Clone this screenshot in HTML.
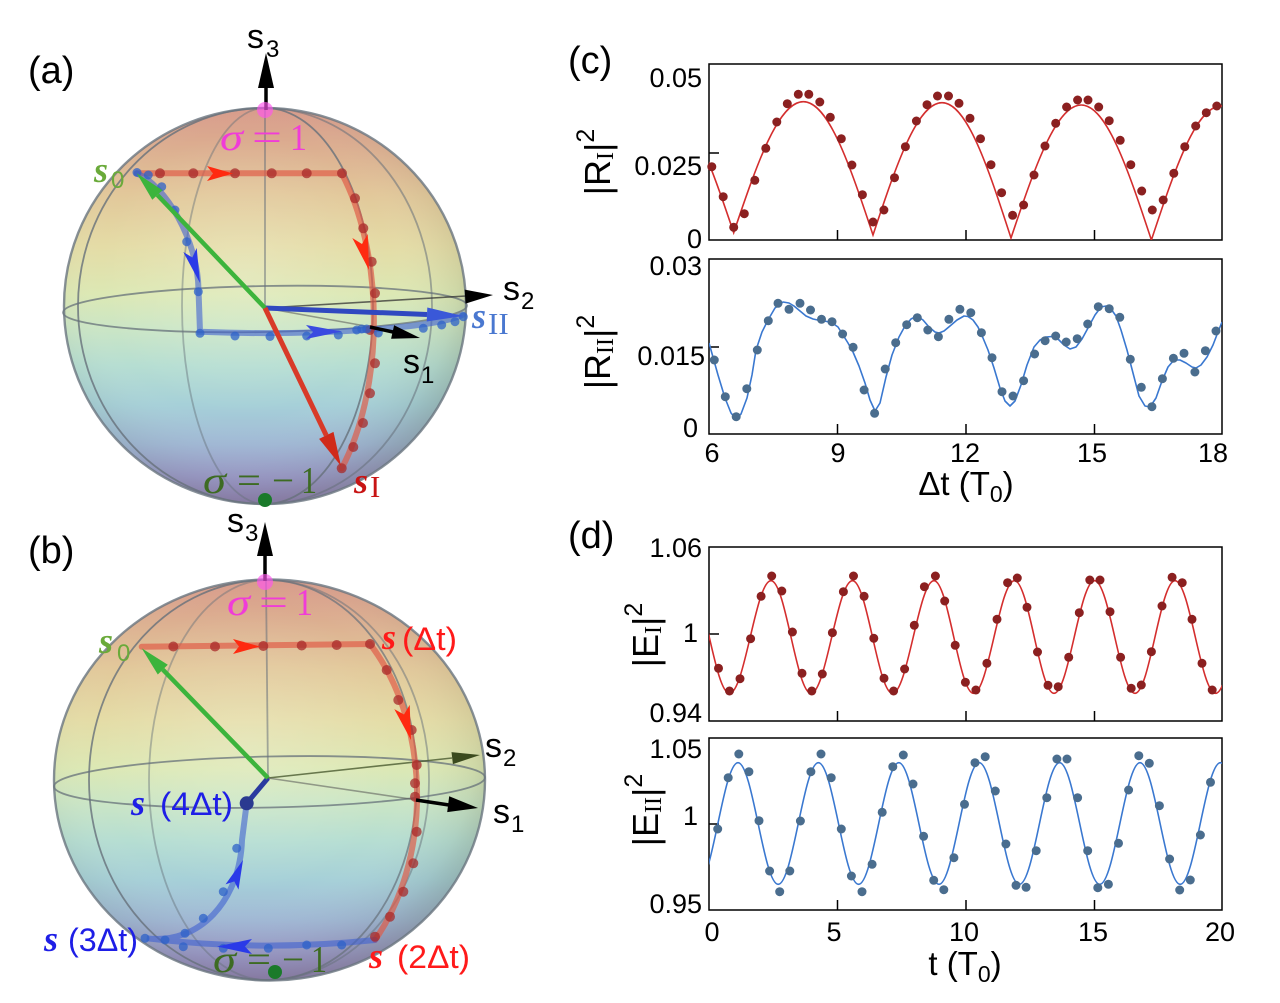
<!DOCTYPE html>
<html>
<head>
<meta charset="utf-8">
<style>
html,body{margin:0;padding:0;background:#fff;}
svg{display:block;}
text{font-family:"Liberation Sans",Arial,sans-serif;}
.sf{font-family:"Liberation Serif","Times New Roman",serif;}
</style>
</head>
<body>
<svg width="1280" height="1003" viewBox="0 0 1280 1003" xmlns="http://www.w3.org/2000/svg">
<defs>
  <linearGradient id="sg" x1="0" y1="0" x2="0" y2="1">
    <stop offset="0" stop-color="#d89a8a"/>
    <stop offset="0.10" stop-color="#dcae90"/>
    <stop offset="0.22" stop-color="#e2c89a"/>
    <stop offset="0.35" stop-color="#e4dca6"/>
    <stop offset="0.47" stop-color="#dce8b4"/>
    <stop offset="0.55" stop-color="#cce6c4"/>
    <stop offset="0.65" stop-color="#b6ded2"/>
    <stop offset="0.75" stop-color="#a6d0d8"/>
    <stop offset="0.85" stop-color="#a0b8d6"/>
    <stop offset="0.93" stop-color="#9c9ccc"/>
    <stop offset="1" stop-color="#9484bc"/>
  </linearGradient>
  <radialGradient id="sh" cx="0.45" cy="0.42" r="0.6">
    <stop offset="0" stop-color="#ffffff" stop-opacity="0.18"/>
    <stop offset="0.6" stop-color="#ffffff" stop-opacity="0"/>
    <stop offset="0.88" stop-color="#50503a" stop-opacity="0.10"/>
    <stop offset="1" stop-color="#50503a" stop-opacity="0.26"/>
  </radialGradient>
  <clipPath id="c1"><rect x="709" y="64" width="513" height="176"/></clipPath>
  <clipPath id="c2"><rect x="709" y="259" width="513" height="175"/></clipPath>
  <clipPath id="c3"><rect x="709" y="547" width="513" height="174"/></clipPath>
  <clipPath id="c4"><rect x="709" y="738" width="513" height="172"/></clipPath>
</defs>

<!-- ================= Panel labels ================= -->
<text x="28" y="83" font-size="38">(a)</text>
<text x="28" y="563" font-size="38">(b)</text>
<text x="568" y="73" font-size="38">(c)</text>
<text x="568" y="548" font-size="38">(d)</text>

<!-- ================= Sphere (a) ================= -->
<ellipse cx="265" cy="306" rx="201" ry="198" fill="url(#sg)"/>
<ellipse cx="265" cy="306" rx="201" ry="198" fill="url(#sh)"/>
<g fill="none" stroke="#66707a" stroke-width="1.8">
  <path d="M265,108 A187,198 0 0 0 265,504" stroke-opacity="0.8"/>
  <path d="M265,108 A167,198 0 0 1 265,504" stroke-opacity="0.55"/>
  <path d="M265,108 A83,198 0 0 0 265,504" stroke-opacity="0.45"/>
  <path d="M265,108 A108,198 0 0 1 265,504" stroke-opacity="0.8"/>
  <ellipse cx="265" cy="309" rx="202" ry="23" transform="rotate(-1 265 309)" stroke-opacity="0.75"/>
  <line x1="265" y1="108" x2="265" y2="308" stroke-opacity="0.55"/>
</g>
<ellipse cx="265" cy="306" rx="201" ry="198" fill="none" stroke="#6a7680" stroke-opacity="0.8" stroke-width="2.4"/>
<!-- inner axis lines -->
<line x1="265" y1="308" x2="466" y2="296" stroke="#333" stroke-opacity="0.75" stroke-width="1.6"/>
<line x1="265" y1="308" x2="371" y2="327" stroke="#555" stroke-opacity="0.55" stroke-width="1.6"/>
<!-- tubes -->
<path d="M136.7,173.3 L341.7,173.3 A108.5,207.5 0 0 1 341.7,468.3" fill="none" stroke="#e05a45" stroke-opacity="0.68" stroke-width="6" stroke-linecap="round"/>
<path d="M136.7,173.3 C165,185 198,240 198.5,290 L200,331.8 A202,23 0 0 0 463,314.5" fill="none" stroke="#4060d0" stroke-opacity="0.6" stroke-width="6" stroke-linecap="round"/>
<!-- red dots a -->
<g fill="#a82a2a" fill-opacity="0.75">
  <circle cx="160" cy="173.3" r="5"/><circle cx="193.3" cy="173.3" r="5"/><circle cx="235" cy="173.3" r="5"/>
  <circle cx="271.7" cy="173.3" r="5"/><circle cx="306.7" cy="173.3" r="5"/><circle cx="342" cy="173.3" r="5"/>
  <circle cx="355" cy="198.3" r="5"/><circle cx="363.3" cy="228.3" r="5"/><circle cx="371.7" cy="261.7" r="5"/>
  <circle cx="375" cy="293.3" r="5"/><circle cx="370" cy="330" r="5"/><circle cx="375" cy="363.3" r="5"/>
  <circle cx="370" cy="393.3" r="5"/><circle cx="363" cy="423" r="5"/><circle cx="353.3" cy="447" r="5"/>
  <circle cx="341.7" cy="468.3" r="5"/>
</g>
<!-- blue dots a -->
<g fill="#2e62c8" fill-opacity="0.75">
  <circle cx="137" cy="172.5" r="4.5"/><circle cx="148.3" cy="175" r="4.5"/><circle cx="161.7" cy="186.7" r="4.5"/>
  <circle cx="175" cy="210" r="4.5"/><circle cx="186.7" cy="241.7" r="4.5"/><circle cx="198.3" cy="291.7" r="4.5"/>
  <circle cx="200" cy="333.3" r="4.5"/><circle cx="235" cy="336" r="4.5"/><circle cx="270" cy="336.5" r="4.5"/>
  <circle cx="306.7" cy="336" r="4.5"/><circle cx="338.3" cy="335" r="4.5"/><circle cx="356.7" cy="330" r="4.5"/>
  <circle cx="361.7" cy="329" r="4.5"/><circle cx="366.7" cy="329" r="4.5"/><circle cx="378.3" cy="333" r="4.5"/>
  <circle cx="423.3" cy="328.3" r="4.5"/><circle cx="441.7" cy="325" r="4.5"/><circle cx="455" cy="321.7" r="4.5"/>
  <circle cx="463.3" cy="316.7" r="4.5"/>
</g>
<!-- vectors a -->
<line x1="265" y1="308" x2="427" y2="314.5" stroke="#3048c0" stroke-width="5"/>
<polygon points="463,316 426.7,321.5 427.3,307.5" fill="#3a58d8"/>
<line x1="265" y1="308" x2="157.4" y2="195" stroke="#3cb43c" stroke-width="4.5"/>
<polygon points="136.7,173.3 162.5,190.2 152.3,199.8" fill="#3cb43c"/>
<line x1="265" y1="308" x2="326.3" y2="435.4" stroke="#d83a28" stroke-width="5"/>
<polygon points="341,466 319.1,438.9 333.5,431.9" fill="#d02a1a"/>
<!-- trajectory arrowheads a -->
<polygon points="207,166 233,173.5 207,181 213,173.5" fill="#ff2a10"/>
<polygon points="352.3,238 369,270 367.7,234 362,244" fill="#ff2a10"/>
<polygon points="183.3,252 200,283 196.7,248 192.3,257.5" fill="#2a3ae8"/>
<polygon points="306,325 342,331.5 306,339 313,332" fill="#3a4ae0"/>
<!-- axes a -->
<line x1="370" y1="327" x2="393" y2="332" stroke="#000" stroke-width="3.5"/>
<polygon points="420,338 391.1,338.8 394.1,325.2" fill="#000"/>
<polygon points="493,295 465.5,303.6 464.7,289.6" fill="#000"/>
<line x1="266" y1="86" x2="266" y2="110" stroke="#000" stroke-width="3.5"/>
<polygon points="266,53 258,88 274,88" fill="#000"/>
<circle cx="265" cy="110" r="8" fill="#ff55ee" fill-opacity="0.65"/>
<circle cx="265" cy="500" r="7" fill="#1a7a2a"/>
<!-- labels a -->
<text x="247" y="48" font-size="34">s</text><text x="266" y="57" font-size="24">3</text>
<text x="503" y="300" font-size="34">s</text><text x="521" y="309" font-size="24">2</text>
<text x="403" y="373" font-size="34">s</text><text x="421" y="383" font-size="24">1</text>
<text class="sf" x="94" y="182" font-size="36" font-weight="bold" font-style="italic" fill="#6aaa3a">s</text>
<text x="111" y="188" font-size="24" fill="#6aaa3a">0</text>
<text class="sf" x="354" y="493" font-size="36" font-weight="bold" font-style="italic" fill="#c81414">s</text>
<text class="sf" x="370" y="497" font-size="31" fill="#c81414">I</text>
<text class="sf" x="472" y="328" font-size="36" font-weight="bold" font-style="italic" fill="#4a78d0">s</text>
<text class="sf" x="488" y="334" font-size="31" fill="#4a78d0">II</text>
<g class="sf" fill="#f03cd8" font-size="38">
  <text class="sf" x="220" y="150" font-style="italic" textLength="23" lengthAdjust="spacingAndGlyphs">σ</text>
  <text class="sf" x="252" y="150" textLength="30" lengthAdjust="spacingAndGlyphs">=</text>
  <text class="sf" x="290" y="150" textLength="17" lengthAdjust="spacingAndGlyphs">1</text>
</g>
<g fill="#3d6b22" font-size="38">
  <text class="sf" x="203" y="493" font-style="italic" textLength="23" lengthAdjust="spacingAndGlyphs">σ</text>
  <text class="sf" x="237" y="493" textLength="24" lengthAdjust="spacingAndGlyphs">=</text>
  <text class="sf" x="272" y="493" textLength="22" lengthAdjust="spacingAndGlyphs">−</text>
  <text class="sf" x="301" y="493" textLength="16" lengthAdjust="spacingAndGlyphs">1</text>
</g>

<!-- ================= Sphere (b) ================= -->
<ellipse cx="269.5" cy="780" rx="215.5" ry="200.5" fill="url(#sg)"/>
<ellipse cx="269.5" cy="780" rx="215.5" ry="200.5" fill="url(#sh)"/>
<g fill="none" stroke="#66707a" stroke-width="1.8">
  <path d="M267,580 A178,200 0 0 0 267,980" stroke-opacity="0.8"/>
  <path d="M267,580 A118,200 0 0 0 267,980" stroke-opacity="0.45"/>
  <path d="M267,580 A150,200 0 0 1 267,980" stroke-opacity="0.7"/>
  <path d="M267,580 A162,200 0 0 1 267,980" stroke-opacity="0.5"/>
  <ellipse cx="269.5" cy="782" rx="215.5" ry="25.5" transform="rotate(-1.2 269.5 782)" stroke-opacity="0.75"/>
  <line x1="266" y1="580" x2="268" y2="778" stroke-opacity="0.55"/>
</g>
<ellipse cx="269.5" cy="780" rx="215.5" ry="200.5" fill="none" stroke="#6a7680" stroke-opacity="0.8" stroke-width="2.4"/>
<line x1="268" y1="778" x2="452" y2="758" stroke="#4a5a30" stroke-opacity="0.8" stroke-width="1.6"/>
<line x1="268" y1="778" x2="417" y2="800" stroke="#555" stroke-opacity="0.55" stroke-width="1.6"/>
<!-- tubes b -->
<path d="M141.7,646.7 L370,644 A147,206.5 0 0 1 375,940" fill="none" stroke="#e05a45" stroke-opacity="0.68" stroke-width="6" stroke-linecap="round"/>
<path d="M375,940 Q260,952 146.7,938.3 C200,945 240,900 242,840 L246.7,803.3" fill="none" stroke="#4060d0" stroke-opacity="0.6" stroke-width="6" stroke-linecap="round"/>
<!-- red dots b -->
<g fill="#a82a2a" fill-opacity="0.75">
  <circle cx="173.3" cy="646.5" r="5"/><circle cx="215" cy="646.5" r="5"/><circle cx="263.3" cy="646" r="5"/>
  <circle cx="301.7" cy="645.5" r="5"/><circle cx="336.7" cy="645" r="5"/><circle cx="370" cy="644" r="5"/>
  <circle cx="386.7" cy="670" r="5"/><circle cx="398.3" cy="700" r="5"/><circle cx="411.7" cy="730" r="5"/>
  <circle cx="416.7" cy="765" r="5"/><circle cx="415" cy="783.3" r="5"/><circle cx="415" cy="796.7" r="5"/>
  <circle cx="416.7" cy="831.7" r="5"/><circle cx="413.3" cy="863.3" r="5"/><circle cx="403.3" cy="891.7" r="5"/>
  <circle cx="390" cy="916.7" r="5"/><circle cx="375" cy="936.7" r="5"/>
</g>
<!-- blue dots b -->
<g fill="#2e62c8" fill-opacity="0.75">
  <circle cx="341.7" cy="945" r="4.5"/><circle cx="306.7" cy="945" r="4.5"/><circle cx="268.3" cy="948.3" r="4.5"/>
  <circle cx="223.3" cy="948.3" r="4.5"/><circle cx="183.3" cy="946.7" r="4.5"/><circle cx="165" cy="940" r="4.5"/>
  <circle cx="145" cy="938.3" r="4.5"/><circle cx="185" cy="933.3" r="4.5"/><circle cx="203.3" cy="918.3" r="4.5"/>
  <circle cx="223.3" cy="891.7" r="4.5"/><circle cx="236.7" cy="848.3" r="4.5"/>
</g>
<!-- vectors b -->
<line x1="268" y1="778" x2="246.7" y2="803.3" stroke="#2a3aa0" stroke-width="5"/>
<circle cx="246.7" cy="803.3" r="7" fill="#2a3a90"/>
<line x1="268" y1="778" x2="162.8" y2="669.6" stroke="#3cb43c" stroke-width="4.5"/>
<polygon points="141.7,648.3 167.8,664.7 157.8,674.5" fill="#3cb43c"/>
<!-- trajectory arrowheads b -->
<polygon points="233,639 260,646.5 233,654 239,646.5" fill="#ff2a10"/>
<polygon points="394.3,709.1 411,740 409.7,704.9 404,714.5" fill="#ff2a10"/>
<polygon points="238.5,889.6 243,860 225.5,884.4 234.3,881.4" fill="#2a3ae8"/>
<polygon points="252,939 217,946.5 252,954 245,946.5" fill="#2a3ae8"/>
<!-- axes b -->
<line x1="416" y1="800" x2="449" y2="805" stroke="#000" stroke-width="3.5"/>
<polygon points="478,808 447.2,812.1 449.2,796.3" fill="#000"/>
<polygon points="480,755 452.9,764.1 451.5,752.1" fill="#3b4a1e"/>
<line x1="265" y1="554" x2="265" y2="581" stroke="#000" stroke-width="3.5"/>
<polygon points="265,522 257,556 273,556" fill="#000"/>
<circle cx="265" cy="582" r="8" fill="#ff55ee" fill-opacity="0.65"/>
<circle cx="275" cy="972" r="7" fill="#1a7a2a"/>
<!-- labels b -->
<text x="227" y="532" font-size="34">s</text><text x="245" y="541" font-size="24">3</text>
<text x="485" y="757" font-size="34">s</text><text x="503" y="766" font-size="24">2</text>
<text x="493" y="823" font-size="34">s</text><text x="511" y="832" font-size="24">1</text>
<text class="sf" x="99" y="653" font-size="36" font-weight="bold" font-style="italic" fill="#6aaa3a">s</text>
<text x="117" y="661" font-size="24" fill="#6aaa3a">0</text>
<g fill="#f03cd8" font-size="38">
  <text class="sf" x="227" y="615" font-style="italic" textLength="23" lengthAdjust="spacingAndGlyphs">σ</text>
  <text class="sf" x="259" y="615" textLength="29" lengthAdjust="spacingAndGlyphs">=</text>
  <text class="sf" x="296" y="615" textLength="17" lengthAdjust="spacingAndGlyphs">1</text>
</g>
<g fill="#3d6b22" font-size="38">
  <text class="sf" x="213" y="972" font-style="italic" textLength="23" lengthAdjust="spacingAndGlyphs">σ</text>
  <text class="sf" x="247" y="972" textLength="24" lengthAdjust="spacingAndGlyphs">=</text>
  <text class="sf" x="282" y="972" textLength="22" lengthAdjust="spacingAndGlyphs">−</text>
  <text class="sf" x="311" y="972" textLength="16" lengthAdjust="spacingAndGlyphs">1</text>
</g>
<text class="sf" x="382" y="649" font-size="36" font-weight="bold" font-style="italic" fill="#ff1a1a">s</text>
<text x="402" y="650" font-size="32" fill="#ff1a1a" textLength="55" lengthAdjust="spacingAndGlyphs">(Δt)</text>
<text class="sf" x="131" y="815" font-size="36" font-weight="bold" font-style="italic" fill="#1e1ee6">s</text>
<text x="160" y="815" font-size="32" fill="#1e1ee6" textLength="73" lengthAdjust="spacingAndGlyphs">(4Δt)</text>
<text class="sf" x="44" y="951" font-size="36" font-weight="bold" font-style="italic" fill="#1e1ee6">s</text>
<text x="68" y="951" font-size="32" fill="#1e1ee6" textLength="70" lengthAdjust="spacingAndGlyphs">(3Δt)</text>
<text class="sf" x="369" y="968" font-size="36" font-weight="bold" font-style="italic" fill="#ff1a1a">s</text>
<text x="397" y="968" font-size="32" fill="#ff1a1a" textLength="73" lengthAdjust="spacingAndGlyphs">(2Δt)</text>

<!-- ================= Plot (c) top ================= -->
<rect x="709" y="64" width="513" height="176" fill="none" stroke="#000" stroke-width="1.5"/>
<g stroke="#000" stroke-width="1.5">
  <line x1="837.5" y1="240" x2="837.5" y2="230"/><line x1="966" y1="240" x2="966" y2="230"/><line x1="1094.5" y1="240" x2="1094.5" y2="230"/>
  <line x1="709" y1="153" x2="719" y2="153"/>
</g>
<g clip-path="url(#c1)">
<path fill="none" stroke="#d42e2e" stroke-width="1.6" d="M664.05,101.7 C689.12,101.7 710.42,163.9 733.7,232.7
 C756.98,163.9 778.28,101.7 803.35,101.7 C828.42,101.7 849.72,165 873,235
 C896.07,165.53 917.17,102.7 942,102.7 C966.83,102.7 987.93,166.95 1011,238
 C1034.47,168.16 1055.94,105 1081.2,105 C1106.47,105 1127.93,169.11 1151.4,240
 C1174.7,169.64 1196.01,106 1221.1,106 C1246,106 1268,170 1290.8,240"/>
</g>
<g fill="#8b2020">
<circle cx="711.8" cy="166.7" r="4.5"/><circle cx="723.2" cy="196.7" r="4.5"/><circle cx="733.7" cy="227.3" r="4.5"/><circle cx="744.3" cy="213.7" r="4.5"/>
<circle cx="754.8" cy="180.3" r="4.5"/><circle cx="765.8" cy="148.3" r="4.5"/><circle cx="776.8" cy="122" r="4.5"/><circle cx="787.3" cy="103.7" r="4.5"/>
<circle cx="798.3" cy="94.3" r="4.5"/><circle cx="808.8" cy="94.3" r="4.5"/><circle cx="819.8" cy="102" r="4.5"/><circle cx="830.3" cy="117.3" r="4.5"/>
<circle cx="841.3" cy="138.7" r="4.5"/><circle cx="851.9" cy="165" r="4.5"/><circle cx="862.4" cy="194.7" r="4.5"/><circle cx="873" cy="222" r="4.5"/>
<circle cx="883.9" cy="210" r="4.5"/><circle cx="894.5" cy="177.7" r="4.5"/><circle cx="905.4" cy="146.7" r="4.5"/><circle cx="916.4" cy="121" r="4.5"/>
<circle cx="927" cy="104.7" r="4.5"/><circle cx="937.5" cy="96" r="4.5"/><circle cx="948.5" cy="96" r="4.5"/><circle cx="959" cy="103.3" r="4.5"/>
<circle cx="970" cy="118.3" r="4.5"/><circle cx="980.5" cy="138.7" r="4.5"/><circle cx="991" cy="164.7" r="4.5"/><circle cx="1001.6" cy="192.7" r="4.5"/>
<circle cx="1012.6" cy="215.3" r="4.5"/><circle cx="1023.6" cy="205" r="4.5"/><circle cx="1034" cy="175" r="4.5"/><circle cx="1045" cy="146" r="4.5"/>
<circle cx="1055.7" cy="123.3" r="4.5"/><circle cx="1066.6" cy="107" r="4.5"/><circle cx="1077.6" cy="100" r="4.5"/><circle cx="1088" cy="100" r="4.5"/>
<circle cx="1098.7" cy="107" r="4.5"/><circle cx="1109.2" cy="120.7" r="4.5"/><circle cx="1120.2" cy="140.3" r="4.5"/><circle cx="1130.8" cy="164.7" r="4.5"/>
<circle cx="1141.7" cy="191" r="4.5"/><circle cx="1152.3" cy="210" r="4.5"/><circle cx="1163.2" cy="200" r="4.5"/><circle cx="1173.8" cy="173.3" r="4.5"/>
<circle cx="1184.8" cy="146.7" r="4.5"/><circle cx="1195.7" cy="126" r="4.5"/><circle cx="1206.3" cy="112.7" r="4.5"/><circle cx="1216.8" cy="106" r="4.5"/>
</g>
<g font-size="27" text-anchor="end">
  <text x="702" y="87">0.05</text>
  <text x="702" y="175">0.025</text>
  <text x="702" y="248">0</text>
</g>
<text transform="translate(610,162) rotate(-90)" text-anchor="middle" font-size="36">|R<tspan font-family="Liberation Serif" font-size="24" dy="3">I</tspan><tspan dy="-3">|</tspan><tspan font-size="25" dy="-16">2</tspan></text>

<!-- ================= Plot (c) bottom ================= -->
<rect x="709" y="259" width="513" height="175" fill="none" stroke="#000" stroke-width="1.5"/>
<g stroke="#000" stroke-width="1.5">
  <line x1="709" y1="347" x2="719" y2="347"/>
  <line x1="837.5" y1="434" x2="837.5" y2="424"/><line x1="966" y1="434" x2="966" y2="424"/><line x1="1094.5" y1="434" x2="1094.5" y2="424"/>
</g>
<g clip-path="url(#c2)">
<polyline fill="none" stroke="#3a78d0" stroke-width="1.6" stroke-linejoin="round" points="709,343 711,350 718,375 725,398 731,413 736,419 741,414 747,398 752,375 756,350 762,332 768,320 775,308 783,302 789,303 794,306 800,311 806,316 813,319 820,320.5 827,321.5 833,323.5 838,327 843,335 848,343 853,352 859,366 865,383 870,400 875,411 880,403 886,377 892,355 899,337 905,326 911,319 917,316 923,320 929,327 935,332 939,333 944,331 950,326 957,320 964,316 968,316.5 973,320 978,327 983,338 988,350 994,368 1000,388 1005,401 1010,406 1015,401 1021,385 1027,365 1034,347 1040,340 1046,337 1052,336.5 1058,339 1064,345 1070,349 1076,347 1082,339 1088,328 1095,315 1101,307 1106,306 1111,309 1116,316 1121,330 1127,350 1133,373 1139,396 1145,406 1150,407 1156,398 1162,381 1168,367 1174,360 1180,360 1186,363 1192,367 1196,368 1201,365 1207,357 1213,345 1218,332 1222,322"/>
</g>
<g fill="#4a6d8e">
<circle cx="714.3" cy="360" r="4.5"/><circle cx="725.3" cy="396.7" r="4.5"/><circle cx="736.2" cy="416.7" r="4.5"/><circle cx="746.8" cy="388.7" r="4.5"/>
<circle cx="757.3" cy="350" r="4.5"/><circle cx="768.3" cy="320.7" r="4.5"/><circle cx="778" cy="303.3" r="4.5"/><circle cx="789" cy="309.3" r="4.5"/>
<circle cx="800" cy="303.3" r="4.5"/><circle cx="810.5" cy="310" r="4.5"/><circle cx="821.5" cy="319.3" r="4.5"/><circle cx="832" cy="321.7" r="4.5"/>
<circle cx="842.6" cy="334" r="4.5"/><circle cx="853.1" cy="347.3" r="4.5"/><circle cx="864.1" cy="390" r="4.5"/><circle cx="874.6" cy="413.3" r="4.5"/>
<circle cx="885.2" cy="369" r="4.5"/><circle cx="895.7" cy="342.7" r="4.5"/><circle cx="906.7" cy="324.7" r="4.5"/><circle cx="917.3" cy="317.7" r="4.5"/>
<circle cx="927.8" cy="330" r="4.5"/><circle cx="938.4" cy="336.7" r="4.5"/><circle cx="948.9" cy="319.3" r="4.5"/><circle cx="959.9" cy="309.3" r="4.5"/>
<circle cx="970.8" cy="312.7" r="4.5"/><circle cx="981.4" cy="332.7" r="4.5"/><circle cx="992" cy="357.7" r="4.5"/><circle cx="1002" cy="391.7" r="4.5"/>
<circle cx="1013" cy="396" r="4.5"/><circle cx="1023.6" cy="380.7" r="4.5"/><circle cx="1034.6" cy="354" r="4.5"/><circle cx="1045.1" cy="340.7" r="4.5"/>
<circle cx="1055.7" cy="336" r="4.5"/><circle cx="1066.2" cy="342" r="4.5"/><circle cx="1077.2" cy="338.7" r="4.5"/><circle cx="1087.7" cy="324" r="4.5"/>
<circle cx="1098.3" cy="306.7" r="4.5"/><circle cx="1109.2" cy="308.7" r="4.5"/><circle cx="1119.8" cy="317.3" r="4.5"/><circle cx="1130.3" cy="359.3" r="4.5"/>
<circle cx="1141.3" cy="387.3" r="4.5"/><circle cx="1151.9" cy="406.7" r="4.5"/><circle cx="1162.4" cy="378.7" r="4.5"/><circle cx="1173.4" cy="358.3" r="4.5"/>
<circle cx="1184" cy="353.3" r="4.5"/><circle cx="1194.9" cy="372" r="4.5"/><circle cx="1205.4" cy="350.7" r="4.5"/><circle cx="1216" cy="331" r="4.5"/>
</g>
<g font-size="27" text-anchor="end">
  <text x="702" y="275">0.03</text>
  <text x="705" y="365">0.015</text>
  <text x="698" y="437">0</text>
</g>
<g font-size="27" text-anchor="middle">
  <text x="712" y="462">6</text><text x="838" y="462">9</text><text x="965" y="462">12</text><text x="1092" y="462">15</text><text x="1213" y="462">18</text>
</g>
<text x="966" y="495" text-anchor="middle" font-size="33">Δt (T<tspan font-size="23" dy="7">0</tspan><tspan dy="-7">)</tspan></text>
<text transform="translate(610,352) rotate(-90)" text-anchor="middle" font-size="36">|R<tspan font-family="Liberation Serif" font-size="24" dy="3">II</tspan><tspan dy="-3">|</tspan><tspan font-size="25" dy="-16">2</tspan></text>

<!-- ================= Plot (d) top ================= -->
<rect x="709" y="547" width="513" height="174" fill="none" stroke="#000" stroke-width="1.5"/>
<g stroke="#000" stroke-width="1.5">
  <line x1="837.5" y1="721" x2="837.5" y2="711"/><line x1="966" y1="721" x2="966" y2="711"/><line x1="1094.5" y1="721" x2="1094.5" y2="711"/>
  <line x1="709" y1="634" x2="719" y2="634"/>
</g>
<g clip-path="url(#c3)">
<path fill="none" stroke="#d42e2e" stroke-width="1.6" d="M689,580.7 C703.74,580.7 714.76,693.3 729.5,693.3
C744.61,693.3 755.89,580.7 771,580.7 C785.56,580.7 796.44,693.3 811,693.3
C826.11,693.3 837.39,580.7 852.5,580.7 C867.06,580.7 877.94,693.3 892.5,693.3
C907.61,693.3 918.89,580.7 934,580.7 C948.38,580.7 959.12,693.3 973.5,693.3
C988.42,693.3 999.58,580.7 1014.5,580.7 C1028.88,580.7 1039.62,693.3 1054,693.3
C1068.74,693.3 1079.76,580.7 1094.5,580.7 C1109.24,580.7 1120.26,693.3 1135,693.3
C1149.56,693.3 1160.44,580.7 1175,580.7 C1189.78,580.7 1200.82,693.3 1215.6,693.3
C1230.31,693.3 1241.29,580.7 1256,580.7"/>
</g>
<g fill="#8b2020">
<circle cx="718.5" cy="668.3" r="4.5"/><circle cx="729.5" cy="691" r="4.5"/><circle cx="740" cy="678.7" r="4.5"/><circle cx="750.6" cy="638.7" r="4.5"/>
<circle cx="761.1" cy="596.3" r="4.5"/><circle cx="771.7" cy="576" r="4.5"/><circle cx="781.8" cy="591" r="4.5"/><circle cx="792.4" cy="632" r="4.5"/>
<circle cx="802" cy="673.3" r="4.5"/><circle cx="811.8" cy="691" r="4.5"/><circle cx="822.3" cy="674" r="4.5"/><circle cx="832.4" cy="632.7" r="4.5"/>
<circle cx="843.4" cy="591.7" r="4.5"/><circle cx="853.5" cy="576" r="4.5"/><circle cx="864.1" cy="596.3" r="4.5"/><circle cx="873.8" cy="638.3" r="4.5"/>
<circle cx="884" cy="678.3" r="4.5"/><circle cx="893.6" cy="691" r="4.5"/><circle cx="904.6" cy="669" r="4.5"/><circle cx="914.3" cy="625.3" r="4.5"/>
<circle cx="924.4" cy="586.7" r="4.5"/><circle cx="935.4" cy="576" r="4.5"/><circle cx="944.7" cy="601" r="4.5"/><circle cx="955.2" cy="645.3" r="4.5"/>
<circle cx="965.4" cy="682.3" r="4.5"/><circle cx="975.9" cy="690" r="4.5"/><circle cx="986.9" cy="663.3" r="4.5"/><circle cx="997" cy="619.3" r="4.5"/>
<circle cx="1007.6" cy="582.7" r="4.5"/><circle cx="1017.3" cy="578" r="4.5"/><circle cx="1027" cy="607.3" r="4.5"/><circle cx="1037.5" cy="652" r="4.5"/>
<circle cx="1048" cy="685.3" r="4.5"/><circle cx="1058.2" cy="686.7" r="4.5"/><circle cx="1068.7" cy="657.3" r="4.5"/><circle cx="1079.3" cy="612.7" r="4.5"/>
<circle cx="1089.8" cy="580" r="4.5"/><circle cx="1100" cy="580" r="4.5"/><circle cx="1110" cy="611.7" r="4.5"/><circle cx="1120.6" cy="657.3" r="4.5"/>
<circle cx="1131.2" cy="688.3" r="4.5"/><circle cx="1141.3" cy="685" r="4.5"/><circle cx="1151.4" cy="651.7" r="4.5"/><circle cx="1162" cy="606" r="4.5"/>
<circle cx="1172.1" cy="577.3" r="4.5"/><circle cx="1182.2" cy="582.7" r="4.5"/><circle cx="1192" cy="619.3" r="4.5"/><circle cx="1202" cy="663.3" r="4.5"/>
<circle cx="1212.2" cy="690" r="4.5"/>
</g>
<g font-size="27" text-anchor="end">
  <text x="702" y="557">1.06</text>
  <text x="698" y="642">1</text>
  <text x="702" y="722">0.94</text>
</g>
<text transform="translate(658,635) rotate(-90)" text-anchor="middle" font-size="36">|E<tspan font-family="Liberation Serif" font-size="24" dy="3">I</tspan><tspan dy="-3">|</tspan><tspan font-size="25" dy="-16">2</tspan></text>

<!-- ================= Plot (d) bottom ================= -->
<rect x="709" y="738" width="513" height="172" fill="none" stroke="#000" stroke-width="1.5"/>
<g stroke="#000" stroke-width="1.5">
  <line x1="709" y1="824" x2="719" y2="824"/>
  <line x1="837.5" y1="910" x2="837.5" y2="900"/><line x1="966" y1="910" x2="966" y2="900"/><line x1="1094.5" y1="910" x2="1094.5" y2="900"/>
</g>
<g clip-path="url(#c4)">
<path fill="none" stroke="#3a78d0" stroke-width="1.6" d="M697.8,884.3
C712.43,884.3 723.37,762.7 738,762.7 C752.63,762.7 763.57,884.3 778.2,884.3
C792.83,884.3 803.77,762.7 818.4,762.7 C833.03,762.7 843.97,884.3 858.6,884.3
C873.23,884.3 884.17,762.7 898.8,762.7 C913.43,762.7 924.37,884.3 939,884.3
C953.63,884.3 964.57,762.7 979.2,762.7 C993.83,762.7 1004.77,884.3 1019.4,884.3
C1034.03,884.3 1044.97,762.7 1059.6,762.7 C1074.23,762.7 1085.17,884.3 1099.8,884.3
C1114.43,884.3 1125.37,762.7 1140,762.7 C1154.63,762.7 1165.57,884.3 1180.2,884.3
C1194.83,884.3 1205.77,762.7 1220.4,762.7 C1235.03,762.7 1245.97,884.3 1260.6,884.3"/>
</g>
<g fill="#4a6d8e">
<circle cx="717.7" cy="829" r="4.5"/><circle cx="728.2" cy="777.7" r="4.5"/><circle cx="738.8" cy="754" r="4.5"/><circle cx="748.9" cy="771.7" r="4.5"/>
<circle cx="759" cy="820.7" r="4.5"/><circle cx="769.6" cy="871" r="4.5"/><circle cx="779.7" cy="891.7" r="4.5"/><circle cx="789.8" cy="871" r="4.5"/>
<circle cx="800.4" cy="821" r="4.5"/><circle cx="810.9" cy="771.7" r="4.5"/><circle cx="821" cy="754" r="4.5"/><circle cx="831.2" cy="777.7" r="4.5"/>
<circle cx="841.3" cy="829" r="4.5"/><circle cx="851.4" cy="876" r="4.5"/><circle cx="862" cy="891.7" r="4.5"/><circle cx="872.1" cy="864.3" r="4.5"/>
<circle cx="882.2" cy="812.3" r="4.5"/><circle cx="892.8" cy="766.7" r="4.5"/><circle cx="903.3" cy="755" r="4.5"/><circle cx="913" cy="784" r="4.5"/>
<circle cx="923.6" cy="836.3" r="4.5"/><circle cx="933.7" cy="880.3" r="4.5"/><circle cx="943.8" cy="889.7" r="4.5"/><circle cx="953.9" cy="857.7" r="4.5"/>
<circle cx="964.5" cy="804.3" r="4.5"/><circle cx="975" cy="762.7" r="4.5"/><circle cx="985.2" cy="756.7" r="4.5"/><circle cx="995.3" cy="791" r="4.5"/>
<circle cx="1005.9" cy="844" r="4.5"/><circle cx="1016" cy="885.3" r="4.5"/><circle cx="1026.1" cy="887.3" r="4.5"/><circle cx="1036.2" cy="850.7" r="4.5"/>
<circle cx="1046.8" cy="797.7" r="4.5"/><circle cx="1056.9" cy="759" r="4.5"/><circle cx="1067" cy="759" r="4.5"/><circle cx="1077.6" cy="797.7" r="4.5"/>
<circle cx="1087.7" cy="850.7" r="4.5"/><circle cx="1097.8" cy="887.7" r="4.5"/><circle cx="1108.4" cy="884.3" r="4.5"/><circle cx="1118.5" cy="843.3" r="4.5"/>
<circle cx="1128.6" cy="790" r="4.5"/><circle cx="1138.8" cy="755.7" r="4.5"/><circle cx="1149.3" cy="763.3" r="4.5"/><circle cx="1159.4" cy="805.7" r="4.5"/>
<circle cx="1169.6" cy="859" r="4.5"/><circle cx="1179.7" cy="890" r="4.5"/><circle cx="1190.3" cy="880" r="4.5"/><circle cx="1200.4" cy="835" r="4.5"/>
<circle cx="1210.5" cy="782.3" r="4.5"/>
</g>
<g font-size="27" text-anchor="end">
  <text x="702" y="758">1.05</text>
  <text x="698" y="825">1</text>
  <text x="702" y="913">0.95</text>
</g>
<g font-size="27" text-anchor="middle">
  <text x="712" y="941">0</text><text x="834" y="941">5</text><text x="964" y="941">10</text><text x="1093" y="941">15</text><text x="1220" y="941">20</text>
</g>
<text x="965" y="975" text-anchor="middle" font-size="33">t (T<tspan font-size="23" dy="7">0</tspan><tspan dy="-7">)</tspan></text>
<text transform="translate(658,810) rotate(-90)" text-anchor="middle" font-size="36">|E<tspan font-family="Liberation Serif" font-size="24" dy="3">II</tspan><tspan dy="-3">|</tspan><tspan font-size="25" dy="-16">2</tspan></text>
</svg>
</body>
</html>
